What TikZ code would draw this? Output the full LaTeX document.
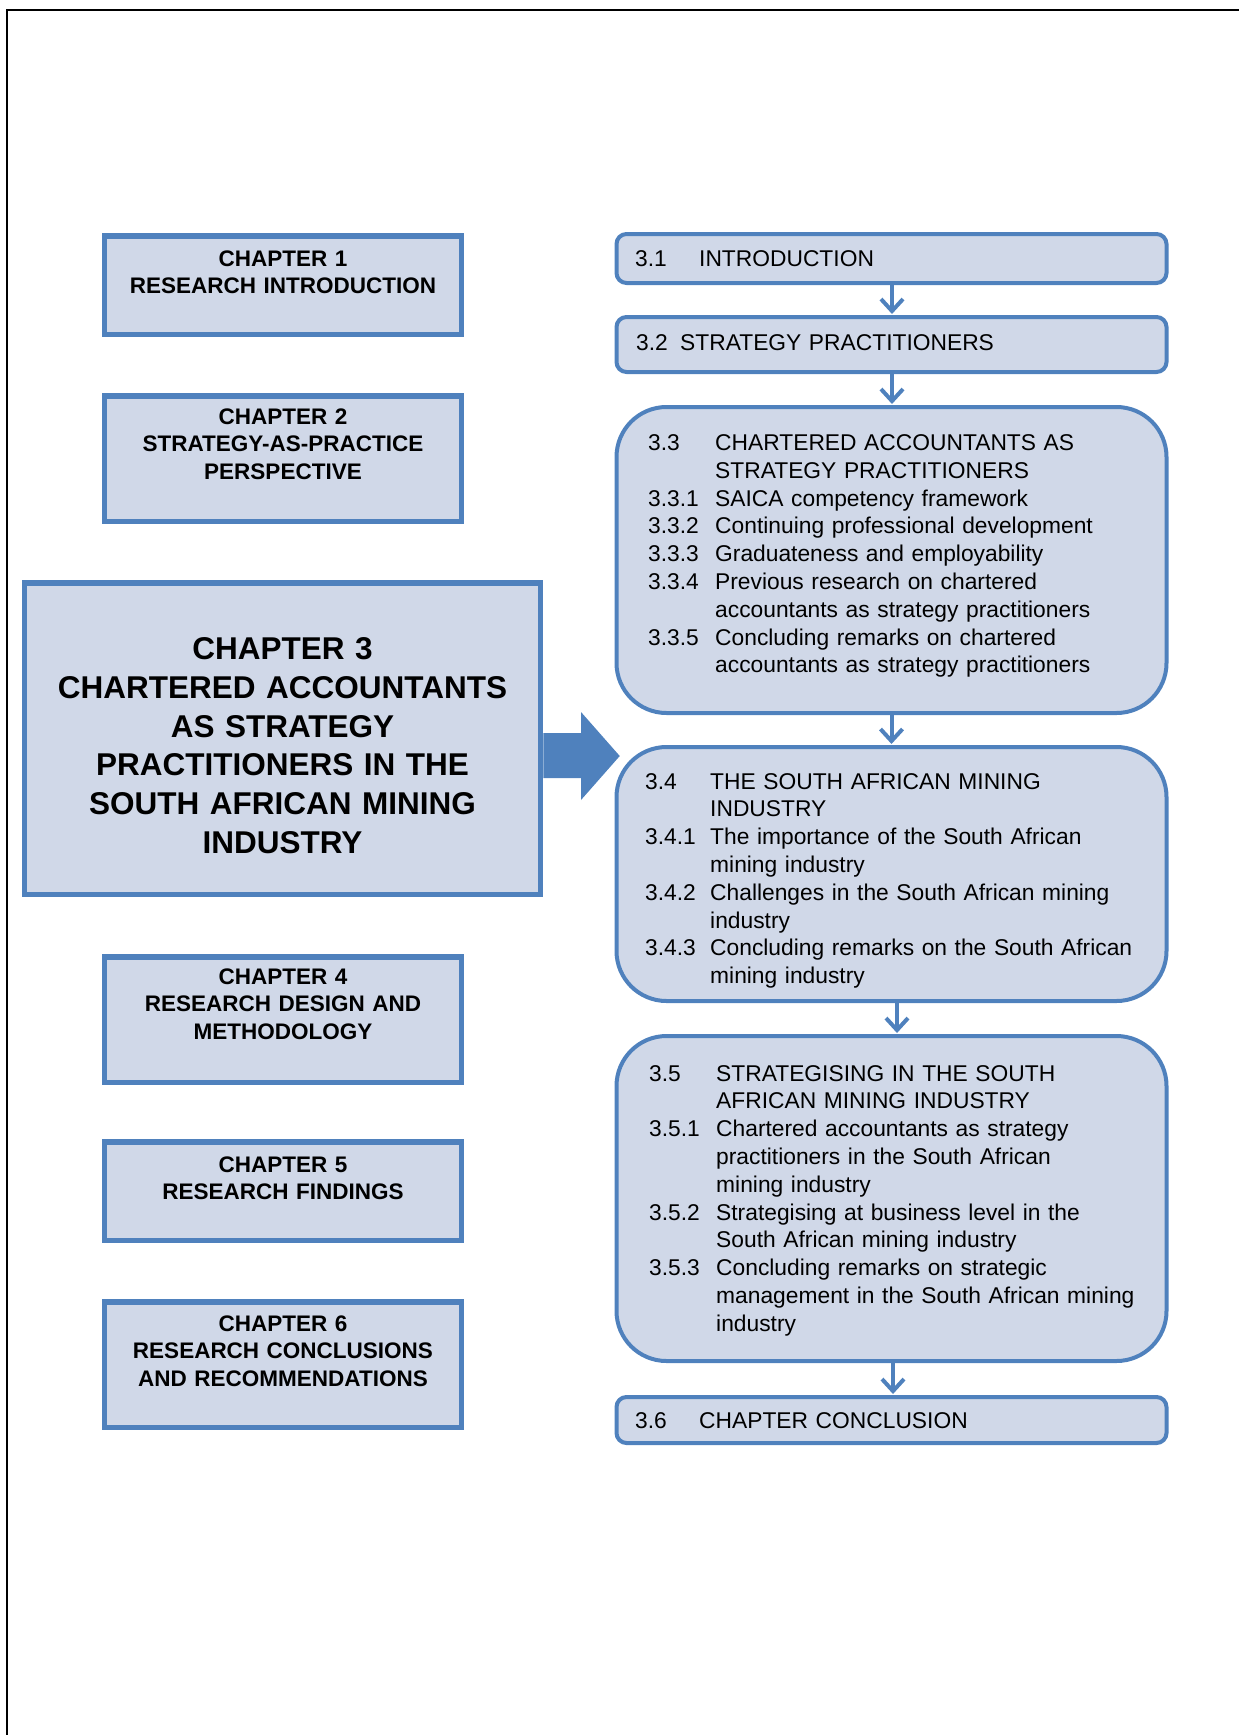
\documentclass[tikz,border=0pt]{standalone}
\usepackage{fontspec}
\setmainfont{Liberation Sans}
\usetikzlibrary{arrows.meta,calc}
\definecolor{boxfill}{RGB}{208,216,232}
\definecolor{boxline}{RGB}{79,129,189}
% one row of a section list: number column, then the heading
\newcommand\secrow[3][67pt]{\makebox[#1][l]{#2}#3}
% continuation line of a heading, indented under the heading text
\newcommand\seccont[2][67pt]{\hspace*{#1}#2}
\begin{document}
\begin{tikzpicture}[x=1pt,y=-1pt,
  chapbox/.style={draw=boxline, fill=boxfill, line width=5.5pt,
    minimum width=357pt, inner sep=0pt},
  chaptext/.style={anchor=base, inner sep=0pt, text width=350pt, align=center,
    font=\fontsize{22.5}{27.6}\selectfont\bfseries},
  secbox/.style={draw=boxline, fill=boxfill, line width=4pt,
    minimum width=550pt, inner sep=0pt},
  smallbox/.style={secbox, rounded corners=10pt},
  bigbox/.style={secbox, rounded corners=50pt},
  sectext/.style={anchor=base west, inner sep=0pt, text width=500pt, align=left,
    font=\fontsize{22.8}{27.8}\selectfont},
  flowarrow/.style={draw=boxline, line width=4pt,
    -{Straight Barb[length=12pt,width=22pt]}, shorten >=1pt}]
\useasboundingbox (0,0) rectangle (1239,1735);

% page frame (top and left edges)
\draw[line width=2.2pt] (7,1740) -- (7,10) -- (1245,10);

% ---- chapter column ----
\node[chapbox, minimum height=98.5pt] (ch1) at (283,285) {};
\node[chaptext] (ch1t) at (283,266) {CHAPTER 1\\RESEARCH INTRODUCTION};

\node[chapbox, minimum height=125.5pt] (ch2) at (283,458.5) {};
\node[chaptext] (ch2t) at (283,424) {CHAPTER 2\\STRATEGY-AS-PRACTICE\\PERSPECTIVE};

\node[chapbox, minimum width=516pt, minimum height=311.5pt] (ch3) at (282.5,738.5) {};
\node[chaptext, text width=510pt, font=\fontsize{31.5}{38.7}\selectfont\bfseries]
  (ch3t) at (282.5,659.8)
  {CHAPTER 3\\CHARTERED ACCOUNTANTS\\AS STRATEGY\\PRACTITIONERS IN THE\\SOUTH AFRICAN MINING\\INDUSTRY};

\node[chapbox, minimum height=125.5pt] (ch4) at (283,1019.5) {};
\node[chaptext] (ch4t) at (283,984) {CHAPTER 4\\RESEARCH DESIGN AND\\METHODOLOGY};

\node[chapbox, minimum height=98.5pt] (ch5) at (283,1191) {};
\node[chaptext] (ch5t) at (283,1172) {CHAPTER 5\\RESEARCH FINDINGS};

\node[chapbox, minimum height=125.5pt] (ch6) at (283,1364.5) {};
\node[chaptext] (ch6t) at (283,1331) {CHAPTER 6\\RESEARCH CONCLUSIONS\\AND RECOMMENDATIONS};

% ---- section column ----
\node[smallbox, minimum height=49pt] (s31) at (891.5,258.5) {};
\node[sectext] (s31t) at (635,266) {\secrow[64pt]{3.1}{INTRODUCTION}};

\node[smallbox, minimum height=55pt] (s32) at (891.5,344.5) {};
\node[sectext] (s32t) at (636,350) {\secrow[44pt]{3.2}{STRATEGY PRACTITIONERS}};

\node[bigbox, minimum height=306pt] (s33) at (891.5,560) {};
\node[sectext] (s33t) at (648,450.5) {%
  \secrow{3.3}{CHARTERED ACCOUNTANTS AS}\\
  \seccont{STRATEGY PRACTITIONERS}\\
  \secrow{3.3.1}{SAICA competency framework}\\
  \secrow{3.3.2}{Continuing professional development}\\
  \secrow{3.3.3}{Graduateness and employability}\\
  \secrow{3.3.4}{Previous research on chartered}\\
  \seccont{accountants as strategy practitioners}\\
  \secrow{3.3.5}{Concluding remarks on chartered}\\
  \seccont{accountants as strategy practitioners}};

\node[bigbox, minimum height=254pt] (s34) at (891.5,874) {};
\node[sectext] (s34t) at (645,789) {%
  \secrow[65pt]{3.4}{THE SOUTH AFRICAN MINING}\\
  \seccont[65pt]{INDUSTRY}\\
  \secrow[65pt]{3.4.1}{The importance of the South African}\\
  \seccont[65pt]{mining industry}\\
  \secrow[65pt]{3.4.2}{Challenges in the South African mining}\\
  \seccont[65pt]{industry}\\
  \secrow[65pt]{3.4.3}{Concluding remarks on the South African}\\
  \seccont[65pt]{mining industry}};

\node[bigbox, minimum height=325pt] (s35) at (891.5,1198.5) {};
\node[sectext] (s35t) at (649,1081) {%
  \secrow{3.5}{STRATEGISING IN THE SOUTH}\\
  \seccont{AFRICAN MINING INDUSTRY}\\
  \secrow{3.5.1}{Chartered accountants as strategy}\\
  \seccont{practitioners in the South African}\\
  \seccont{mining industry}\\
  \secrow{3.5.2}{Strategising at business level in the}\\
  \seccont{South African mining industry}\\
  \secrow{3.5.3}{Concluding remarks on strategic}\\
  \seccont{management in the South African mining}\\
  \seccont{industry}};

\node[smallbox, minimum height=46pt] (s36) at (891.5,1420) {};
\node[sectext] (s36t) at (635,1428) {\secrow[64pt]{3.6}{CHAPTER CONCLUSION}};

% ---- flow between sections ----
\draw[flowarrow] ($(s31.south)+(0.5,0)$) -- ($(s32.north)+(0.5,0)$);
\draw[flowarrow] ($(s32.south)+(0.5,0)$) -- ($(s33.north)+(0.5,0)$);
\draw[flowarrow] ($(s33.south)+(0,0)$) -- ($(s34.north)+(0,0)$);
\draw[flowarrow] ($(s34.south)+(5.5,0)$) -- ($(s35.north)+(5.5,0)$);
\draw[flowarrow] ($(s35.south)+(1.5,0)$) -- ($(s36.north)+(1.5,0)$);

% ---- block arrow from chapter 3 to its sections ----
\fill[boxline] ($(ch3.east)+(0,-5.5)$) -- ($(ch3.east)+(37.75,-5.5)$)
  -- ($(ch3.east)+(37.75,-26.5)$) -- ($(ch3.east)+(76.5,17.5)$)
  -- ($(ch3.east)+(37.75,61.5)$) -- ($(ch3.east)+(37.75,39.5)$)
  -- ($(ch3.east)+(0,39.5)$) -- cycle;
\end{tikzpicture}
\end{document}
